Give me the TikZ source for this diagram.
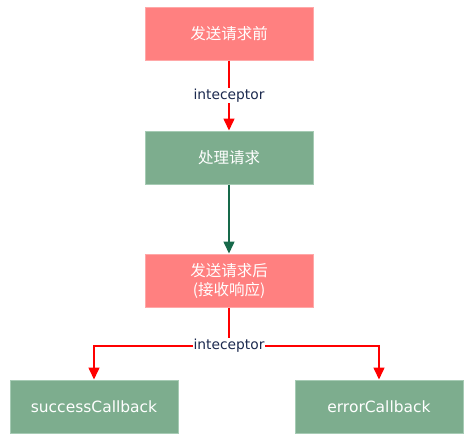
\documentclass[tikz,border=0pt]{standalone}
\usepackage{fontspec}
\setmainfont{DejaVu Sans}
\newfontfamily\cjk{Noto Sans CJK SC}
\usetikzlibrary{arrows.meta}
\definecolor{pinkfill}{HTML}{FF8080}
\definecolor{pinkline}{HTML}{FFA8A8}
\definecolor{greenfill}{HTML}{7DAD8E}
\definecolor{greenline}{HTML}{A6CBB4}
\definecolor{darkgreen}{HTML}{17694A}
\definecolor{labelblue}{HTML}{1C2A4F}
\begin{document}
\begin{tikzpicture}[x=1pt,y=-1pt,
  box/.style={minimum width=168pt,minimum height=53pt,inner sep=0pt,line width=1pt,text=white,align=center,font=\fontsize{15.5}{19}\selectfont},
  redbox/.style={box,fill=pinkfill,draw=pinkline},
  greenbox/.style={box,fill=greenfill,draw=greenline},
  redarrow/.style={draw=red,line width=1.5pt,-{Triangle[width=11pt,length=12pt]},color=red},
  greenarrow/.style={draw=darkgreen,line width=1.5pt,-{Triangle[width=11pt,length=12pt]},color=darkgreen},
  lbl/.style={fill=white,text=labelblue,inner sep=1pt,font=\fontsize{13.8}{16}\selectfont}]
\useasboundingbox (0,0) rectangle (475,440);
\fill[white] (0,0) rectangle (475,440);
\node[redbox] (b1) at (229,33.5) {\cjk 发送请求前};
\node[greenbox] (b2) at (229,157.5) {\cjk 处理请求};
\node[redbox] (b3) at (229,280.5) {\cjk 发送请求后\\\cjk (接收响应)};
\node[greenbox] (s) at (94,406.5) {successCallback};
\node[greenbox] (e) at (379,406.5) {errorCallback};
\coordinate (j) at (229,346);
\draw[redarrow] (b1.south) -- (b2.north) node[midway,lbl] {inteceptor};
\draw[greenarrow] (b2.south) -- (b3.north);
\draw[redarrow] (b3.south) -- (j) -| (s.north);
\draw[redarrow] (j) -| (e.north);
\node[lbl] (l2) at (j) {inteceptor};
\end{tikzpicture}
\end{document}
